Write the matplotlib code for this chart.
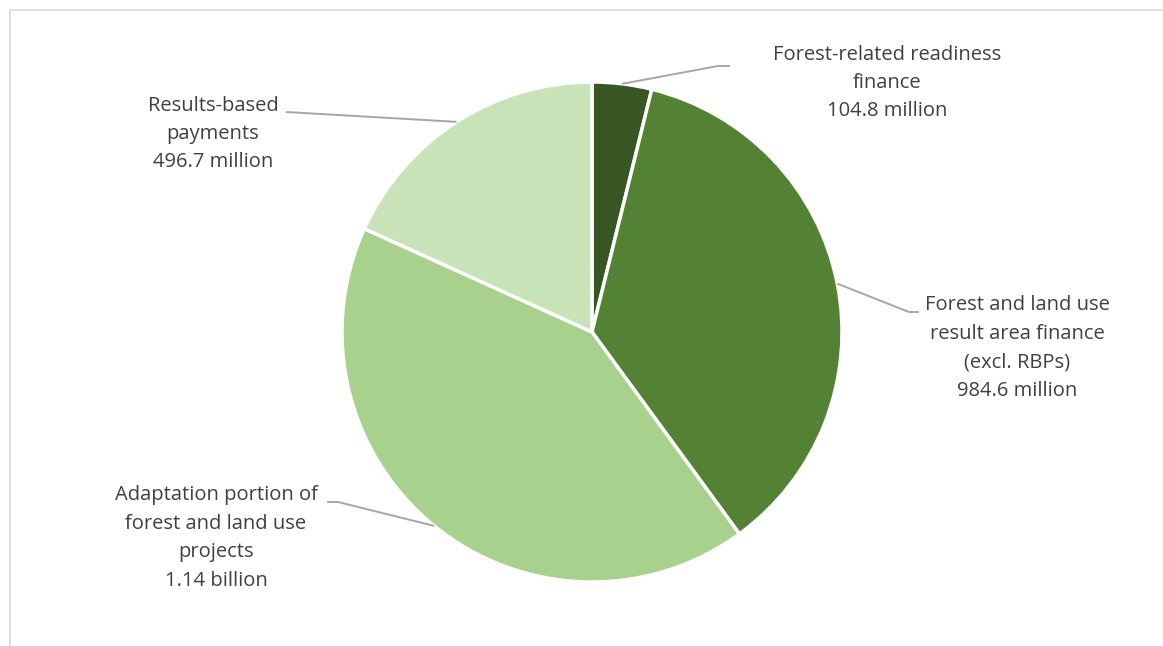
import matplotlib
matplotlib.use('Agg')
import matplotlib.pyplot as plt
import numpy as np

W, H = 1163, 646

categories = ['Forest-related readiness\nfinance',
              'Forest and land use\nresult area finance\n(excl. RBPs)',
              'Adaptation portion of\nforest and land use\nprojects',
              'Results-based\npayments']
values = [104.8, 984.6, 1140.0, 496.7]          # USD million
value_labels = ['104.8 million', '984.6 million', '1.14 billion', '496.7 million']
colors = ['#375623', '#548235', '#A9D18E', '#C9E3B8']

# label placement in pixel coords (x, y from top), elbow of leader, side of elbow
label_pos = [(887, 83), (1017, 348), (216, 538), (213, 134)]
elbows = [[(730, 66), (718, 66)], [(919, 312), (909, 312)],
          [(327, 502), (338, 502)], [(286, 112)]]

cx, cy, R = 592, H - 332, 250

fig = plt.figure(figsize=(W / 100, H / 100), dpi=100)
ax = fig.add_axes([0, 0, 1, 1])
wedges, _ = ax.pie(values, colors=colors, startangle=90, counterclock=False,
                   center=(cx, cy), radius=R,
                   wedgeprops=dict(edgecolor='white', linewidth=2.5))
ax.set_xlim(0, W)
ax.set_ylim(0, H)
ax.set_aspect('equal')
ax.axis('off')

# chart frame (only top/left visible)
ax.add_patch(plt.Rectangle((10, -20), W + 20, H - 10 + 20, fill=False,
                           edgecolor='#D9D9D9', linewidth=1.2))

for i, w in enumerate(wedges):
    ang = np.deg2rad((w.theta1 + w.theta2) / 2)
    ex, ey = cx + R * np.cos(ang), cy + R * np.sin(ang)
    pts = [(x, H - y) for x, y in elbows[i]] + [(ex, ey)]
    xs, ys = zip(*pts)
    ax.plot(xs, ys, color='#A6A6A6', linewidth=1.4, solid_capstyle='butt')
    tx, ty = label_pos[i]
    ax.text(tx, H - ty, categories[i] + '\n' + value_labels[i], ha='center', va='center',
            fontsize=14.5, color='#404040', family='Open Sans', linespacing=1.56)

fig.savefig('out.png', dpi=100)
